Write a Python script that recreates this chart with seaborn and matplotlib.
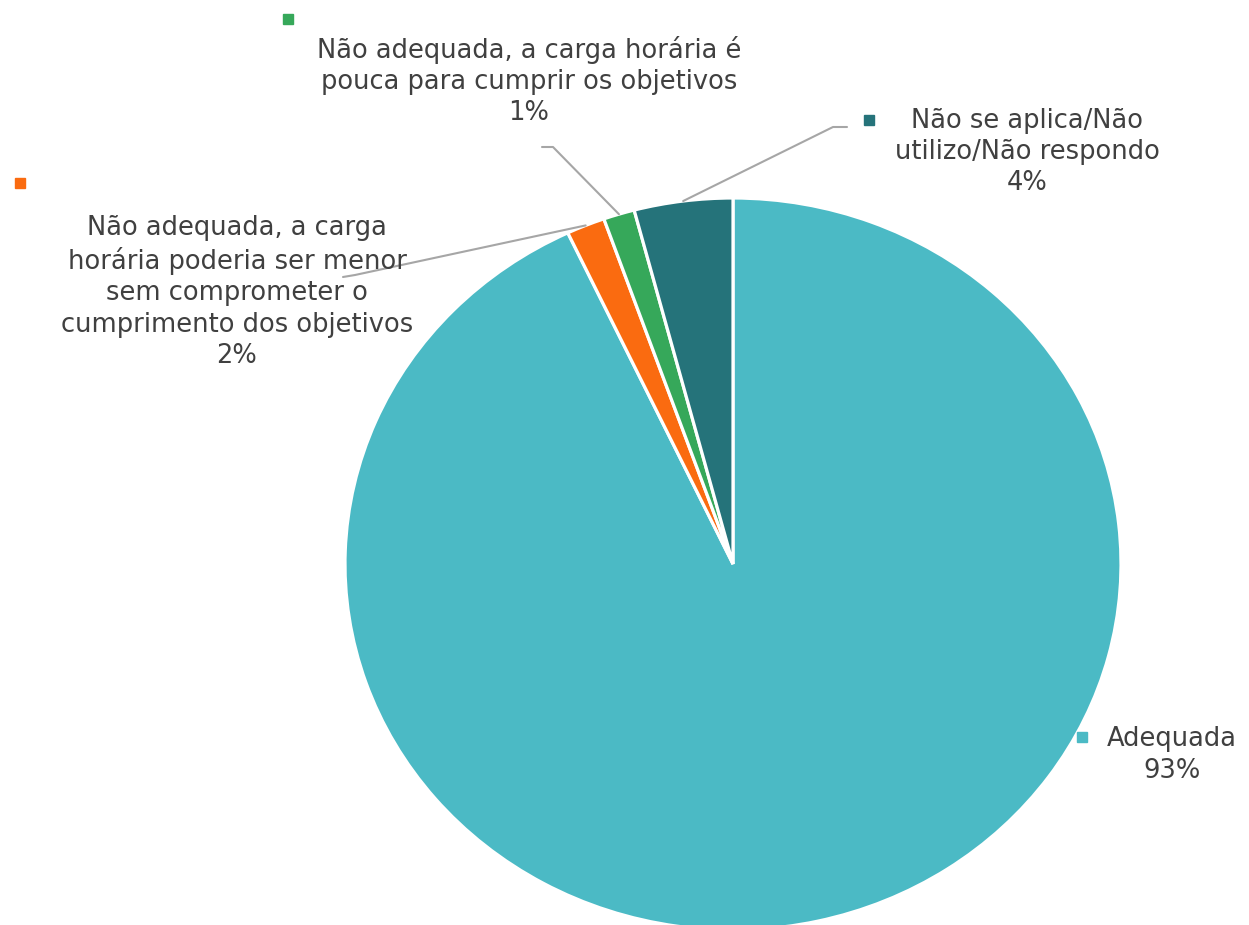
import seaborn as sns
import matplotlib.pyplot as plt
import numpy as np

# slice data (clockwise from 12 o'clock)
categories = [
    "Adequada",
    "Não adequada, a carga\nhorária poderia ser menor\nsem comprometer o\ncumprimento dos objetivos",
    "Não adequada, a carga horária é\npouca para cumprir os objetivos",
    "Não se aplica/Não\nutilizo/Não respondo",
]
values = [93.0, 1.6, 1.3, 4.1]
pct_labels = ["93%", "2%", "1%", "4%"]
colors = ["#4BBAC5", "#FA6B10", "#36A85A", "#25737A"]

sns.set_theme(style="white")
plt.rcParams["font.family"] = ["DejaVu Sans"]

W, H = 1249, 925
CX, CY, RX, RY = 733, 564, 388, 366

fig = plt.figure(figsize=(W / 100, H / 100), dpi=100)
ax = fig.add_axes([(CX - RX) / W, (H - (CY + RY)) / H, 2 * RX / W, 2 * RY / H])

wedges, _ = ax.pie(values, colors=colors, startangle=90, counterclock=False,
                   wedgeprops=dict(edgecolor="white", linewidth=2.3))
ax.set_aspect("auto")
ax.set_xlim(-1, 1)
ax.set_ylim(-1, 1)
ax.axis("off")


def to_data(px, py):
    return (px - CX) / RX, (CY - py) / RY


# label layout in pixels: text centre, marker position, leader line (elbow, end)
layout = [
    dict(text=(1172, 755), marker=(1082, 737), line=None),
    dict(text=(237, 292), marker=(20, 183), line=[(355, 275), (343, 277)]),
    dict(text=(529, 81), marker=(288, 19), line=[(553, 147), (542, 147)]),
    dict(text=(1027, 152), marker=(869, 120), line=[(833, 127), (847, 127)]),
]

for w, cat, pct, col, lay in zip(wedges, categories, pct_labels, colors, layout):
    tx, ty = to_data(*lay["text"])
    ax.text(tx, ty, cat + "\n" + pct, ha="center", va="center",
            multialignment="center", fontsize=18.5, color="#404040",
            linespacing=1.27, clip_on=False)
    mx, my = to_data(*lay["marker"])
    ax.plot(mx, my, marker="s", markersize=7, color=col, clip_on=False)
    if lay["line"]:
        th = np.deg2rad((w.theta1 + w.theta2) / 2)
        pts = [(np.cos(th), np.sin(th))] + [to_data(*p) for p in lay["line"]]
        xs, ys = zip(*pts)
        ax.plot(xs, ys, color="#A6A6A6", linewidth=1.5, clip_on=False)

fig.savefig("out.png", dpi=100, facecolor="white")
